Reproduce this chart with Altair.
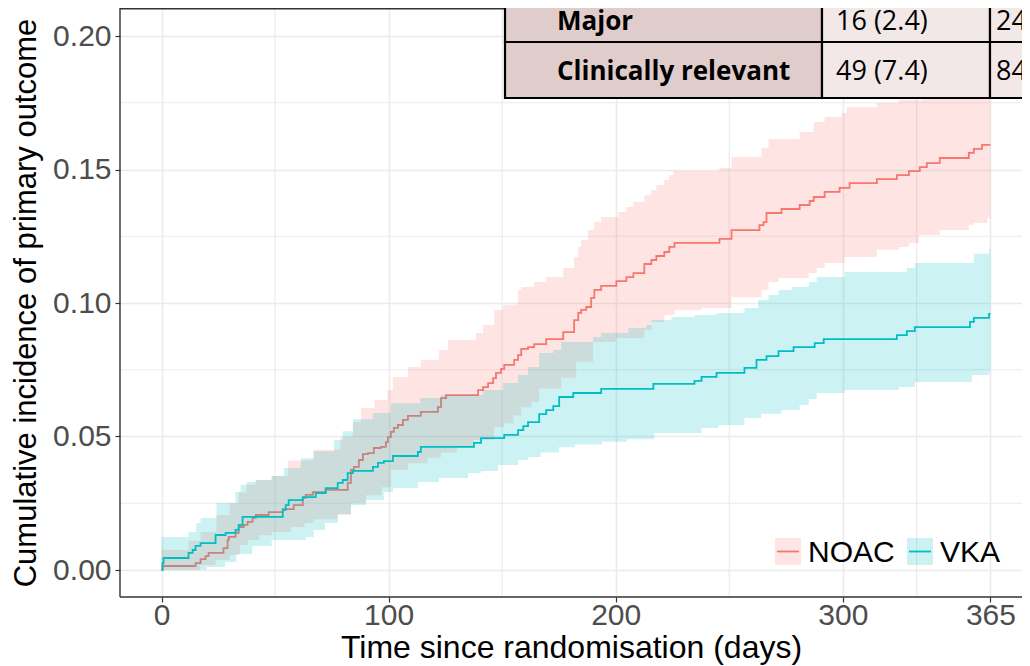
import altair as alt
import pandas as pd
import numpy as np

# ---------------- data ----------------
noac_days = [0, 0.5, 15.0, 17.2, 19.4, 20.7, 27.3, 29.1, 29.6, 32.6, 34.0, 36.2, 37.9, 40.1, 41.5, 47.2,
             53.4, 58.2, 62.2, 63.5, 66.6, 72.3, 82.0, 83.4, 84.7, 86.9, 88.7, 90.9, 93.5, 96.6, 98.8, 99.7,
             101.0, 102.3, 104.1, 106.3, 108.5, 114.2, 121.7, 123.1, 125.3, 139.4, 141.6, 143.8, 146.0, 147.3,
             149.5, 150.9, 155.3, 157.0, 158.4, 161.4, 164.1, 169.4, 176.9, 181.7, 183.5, 184.8, 187.0, 189.2,
             190.6, 193.6, 200.3, 204.7, 207.8, 212.6, 215.7, 217.9, 221.4, 223.6, 225.9, 245.7, 251.0, 263.3,
             265.1, 266.4, 273.0, 281.0, 285.4, 287.2, 292.0, 298.6, 303.0, 315.0, 323.8, 329.1, 333.9, 337.0,
             342.7, 355.5, 357.7, 361.3, 365]
noac_est = [0, 0.0015, 0.0026, 0.0041, 0.0052, 0.0064, 0.0082, 0.0112, 0.0124, 0.0139, 0.0161, 0.0169, 0.0180,
            0.0195, 0.0206, 0.0217, 0.0228, 0.0243, 0.0270, 0.0281, 0.0292, 0.0300, 0.0326, 0.0375, 0.0386,
            0.0412, 0.0434, 0.0438, 0.0457, 0.0461, 0.0479, 0.0498, 0.0517, 0.0532, 0.0543, 0.0562, 0.0577,
            0.0592, 0.0610, 0.0644, 0.0655, 0.0674, 0.0685, 0.0700, 0.0719, 0.0738, 0.0753, 0.0768, 0.0787,
            0.0805, 0.0828, 0.0835, 0.0846, 0.0865, 0.0891, 0.0936, 0.0963, 0.0974, 0.0985, 0.1019, 0.1049,
            0.1064, 0.1082, 0.1097, 0.1112, 0.1146, 0.1161, 0.1176, 0.1191, 0.1210, 0.1225, 0.1240, 0.1273,
            0.1292, 0.1303, 0.1337, 0.1352, 0.1367, 0.1382, 0.1397, 0.1416, 0.1431, 0.1449, 0.1464, 0.1479,
            0.1494, 0.1509, 0.1524, 0.1543, 0.1562, 0.1577, 0.1592, 0.1592]

noac_upper_days = [0, 11.9, 17.2, 24.2, 30.0, 34.0, 37.4, 41.5, 48.5, 55.6, 66.9, 78.8, 84.3, 87.8, 93.8, 99.5,
                   101.9, 108.5, 114.2, 122.2, 126.2, 138.5, 141.6, 146.5, 150.5, 157.0, 158.4, 164.1, 169.4,
                   176.9, 181.7, 183.5, 184.8, 187.9, 190.6, 193.6, 201.1, 204.7, 207.8, 212.6, 215.7, 217.9,
                   221.4, 223.6, 225.4, 245.7, 251.0, 264.2, 267.3, 281.0, 287.2, 292.0, 299.5, 301.7, 315.0,
                   324.7, 335.0, 345.0, 356.0, 365]
noac_upper = [0.0075, 0.011, 0.0142, 0.0206, 0.025, 0.029, 0.032, 0.0337, 0.0352, 0.041, 0.045, 0.0498, 0.0554,
              0.0607, 0.0637, 0.0674, 0.0723, 0.0760, 0.0787, 0.0824, 0.0861, 0.0888, 0.0918, 0.0974, 0.0993,
              0.1049, 0.1060, 0.1079, 0.1097, 0.1131, 0.1172, 0.1210, 0.1236, 0.1273, 0.1303, 0.1322, 0.1341,
              0.1360, 0.1378, 0.1404, 0.1423, 0.1442, 0.1461, 0.1479, 0.1494, 0.1506, 0.1547, 0.1581, 0.1614,
              0.1640, 0.1678, 0.1697, 0.1712, 0.1734, 0.1749, 0.1760, 0.180, 0.185, 0.190, 0.190]

noac_lower_days = [0, 17.0, 23.8, 30.0, 34.5, 38.0, 43.0, 48.5, 57.0, 63.0, 67.0, 77.6, 83.4, 90.0, 97.0, 101.0,
                   108.5, 117.0, 123.0, 130.0, 137.6, 146.5, 150.9, 155.0, 158.4, 162.8, 166.3, 176.0, 182.6,
                   190.0, 200.0, 212.6, 215.7, 221.4, 225.9, 237.8, 251.0, 264.2, 267.3, 271.7, 285.0, 288.5,
                   292.0, 300.8, 315.0, 324.7, 329.1, 333.5, 342.7, 355.5, 357.7, 363.5, 365]
noac_lower = [0, 0.0019, 0.0037, 0.0056, 0.0094, 0.0112, 0.0130, 0.0142, 0.0161, 0.0176, 0.0190, 0.0206, 0.0251,
              0.0280, 0.0310, 0.0375, 0.0400, 0.0420, 0.0440, 0.0460, 0.0487, 0.0536, 0.0550, 0.0580, 0.0610,
              0.0629, 0.0680, 0.0720, 0.0780, 0.0854, 0.0869, 0.0899, 0.0929, 0.0955, 0.0974, 0.0981, 0.1022,
              0.1049, 0.1079, 0.1094, 0.1112, 0.1131, 0.1150, 0.1172, 0.1199, 0.1210, 0.1225, 0.1255, 0.1273,
              0.1292, 0.1300, 0.1318, 0.1318]

vka_days = [0, 0.4, 0.9, 11.9, 13.7, 15.0, 17.2, 23.8, 28.2, 32.6, 34.0, 35.7, 53.4, 54.7, 56.0, 62.2, 67.9,
            72.3, 77.6, 79.8, 82.0, 84.3, 93.1, 95.3, 97.9, 101.9, 112.9, 114.2, 137.6, 140.7, 150.9, 157.0,
            159.3, 161.4, 166.3, 169.4, 172.5, 175.1, 181.3, 193.6, 216.6, 234.7, 237.8, 244.4, 256.7, 262.0,
            266.4, 271.7, 278.3, 287.6, 291.6, 323.8, 328.2, 331.7, 356.0, 357.7, 364.4, 365]
vka_est = [0, 0.0026, 0.0045, 0.0064, 0.0075, 0.0090, 0.0101, 0.0131, 0.0139, 0.0150, 0.0169, 0.0199, 0.0225,
           0.0243, 0.0262, 0.0273, 0.0288, 0.0307, 0.0326, 0.0337, 0.0363, 0.0371, 0.0386, 0.0401, 0.0408,
           0.0427, 0.0442, 0.0461, 0.0476, 0.0494, 0.0506, 0.0524, 0.0539, 0.0554, 0.0584, 0.0599, 0.0614,
           0.0648, 0.0663, 0.0678, 0.0697, 0.0708, 0.0723, 0.0738, 0.0757, 0.0787, 0.0801, 0.0820, 0.0835,
           0.0850, 0.0865, 0.0880, 0.0895, 0.0910, 0.0929, 0.0944, 0.0959, 0.0959]

vka_upper_days = [0, 11.9, 15.3, 17.2, 24.2, 32.6, 34.8, 37.4, 41.5, 48.5, 53.8, 61.3, 67.0, 76.0, 79.8, 84.3,
                  93.0, 101.0, 114.0, 123.1, 141.6, 150.5, 157.0, 161.4, 166.3, 172.5, 176.0, 190.0, 193.6,
                  205.6, 213.5, 215.7, 224.5, 234.7, 244.4, 256.7, 262.7, 267.3, 271.7, 277.5, 285.0, 288.5,
                  300.8, 328.2, 331.7, 357.7, 364.4, 365]
vka_upper = [0.0124, 0.0142, 0.0176, 0.0195, 0.0251, 0.0292, 0.0318, 0.0330, 0.0337, 0.0352, 0.0382, 0.0419,
             0.0445, 0.0487, 0.0520, 0.0565, 0.0588, 0.0625, 0.0644, 0.0655, 0.0674, 0.0700, 0.0730, 0.0760,
             0.0813, 0.0824, 0.0854, 0.0873, 0.0888, 0.0906, 0.0918, 0.0936, 0.0948, 0.0955, 0.0963, 0.0981,
             0.1011, 0.1030, 0.1049, 0.1060, 0.1079, 0.1097, 0.1116, 0.1131, 0.1150, 0.1184, 0.1202, 0.1202]

vka_lower_days = [0, 20, 28, 33, 40, 48.5, 63.5, 67, 72, 77.6, 83.4, 90, 97.9, 101.9, 112.9, 122.2, 135, 140.7,
                  148.2, 157, 161.4, 167, 175, 182, 194, 205, 217, 237.8, 245.3, 256.7, 264, 273, 281, 285,
                  288.5, 300.8, 324.7, 331.7, 356.9, 364.4, 365]
vka_lower = [0, 0.0011, 0.003, 0.006, 0.009, 0.0112, 0.0124, 0.015, 0.0176, 0.0210, 0.0243, 0.0262, 0.0292,
             0.0307, 0.0330, 0.0345, 0.0363, 0.0371, 0.0393, 0.0412, 0.0423, 0.044, 0.046, 0.047, 0.048, 0.049,
             0.0513, 0.0532, 0.0543, 0.0569, 0.0585, 0.0599, 0.0618, 0.0640, 0.0663, 0.0674, 0.0685, 0.0704,
             0.0730, 0.0742, 0.0742]

x_ticks = [0, 100, 200, 300, 365]
x_minor = [50, 150, 250, 332.5]
y_ticks = [0, 0.05, 0.10, 0.15, 0.20]
y_minor = [0.025, 0.075, 0.125, 0.175]

series_names = ["NOAC", "VKA"]
table_rows = ["Major", "Clinically relevant"]
table_col2 = ["16 (2.4)", "49 (7.4)"]
table_col3 = ["24", "84"]

# ---------------- helpers ----------------
def band_frame(ud, uv, ld, lv):
    grid = sorted(set(ud) | set(ld))
    ud_a, ld_a = np.array(ud), np.array(ld)
    up = [uv[np.searchsorted(ud_a, d, side="right") - 1] for d in grid]
    lo = [lv[np.searchsorted(ld_a, d, side="right") - 1] for d in grid]
    return pd.DataFrame({"day": grid, "upper": up, "lower": lo})

for a, b in [(noac_days, noac_est), (vka_days, vka_est), (noac_upper_days, noac_upper),
             (noac_lower_days, noac_lower), (vka_upper_days, vka_upper), (vka_lower_days, vka_lower)]:
    assert len(a) == len(b), (len(a), len(b))

noac_line = pd.DataFrame({"day": noac_days, "value": noac_est})
vka_line = pd.DataFrame({"day": vka_days, "value": vka_est})
noac_band = band_frame(noac_upper_days, noac_upper, noac_lower_days, noac_lower)
vka_band = band_frame(vka_upper_days, vka_upper, vka_lower_days, vka_lower)

# ---------------- layout ----------------
W, H = 902, 589
PX_PER_DAY = 2.271
X0 = 41.5                       # pixel of day 0 inside plot
x_dom = [-X0 / PX_PER_DAY, (W - X0) / PX_PER_DAY]
PX_PER_UNIT = 2670.0
Y0 = 562.0                      # pixel of 0.00 inside plot
y_dom = [(Y0 - H) / PX_PER_UNIT, Y0 / PX_PER_UNIT]

RED, TEAL = "#F8766D", "#00BFC4"
FONT = "Liberation Sans"
TFONT = "Open Sans"

xs = alt.Scale(domain=x_dom, nice=False, zero=False)
ys = alt.Scale(domain=y_dom, nice=False, zero=False)
x_axis = alt.Axis(values=x_ticks, title="Time since randomisation (days)",
                  labelBaseline="alphabetic", labelPadding=22, titleFontSize=32,
                  titleBaseline="alphabetic", titleY=60, grid=True)
y_axis = alt.Axis(values=y_ticks, format=".2f", title="Cumulative incidence of primary outcome",
                  labelPadding=4, titlePadding=10, titleFontSize=31, grid=True)

X = lambda f="day": alt.X(f"{f}:Q", scale=xs, axis=x_axis)
Y = lambda f="value": alt.Y(f"{f}:Q", scale=ys, axis=y_axis)

minor_x = alt.Chart(pd.DataFrame({"day": x_minor})).mark_rule(color="#ebebeb", strokeWidth=1.2).encode(x=X())
minor_y = alt.Chart(pd.DataFrame({"value": y_minor})).mark_rule(color="#ebebeb", strokeWidth=1.2).encode(y=Y())

def band(df, color):
    return alt.Chart(df).mark_area(interpolate="step-after", color=color, opacity=0.2).encode(
        x=X(), y=Y("upper"), y2="lower:Q")

def line(df, color):
    return alt.Chart(df).mark_line(interpolate="step-after", color=color, strokeWidth=1.8).encode(
        x=X(), y=Y())

dummy = pd.DataFrame({"a": [0]})

# panel border (left, top, bottom; the right side is cropped in the reference)
BORDER = "#333333"
borders = [
    alt.Chart(dummy).mark_rule(color=BORDER, strokeWidth=1.4).encode(
        x=alt.value(0), y=alt.value(0), y2=alt.value(H)),
    alt.Chart(dummy).mark_rule(color=BORDER, strokeWidth=1.4).encode(
        x=alt.value(0), x2=alt.value(W), y=alt.value(0.7)),
    alt.Chart(dummy).mark_rule(color=BORDER, strokeWidth=1.6).encode(
        x=alt.value(0), x2=alt.value(W), y=alt.value(H)),
]

# legend (drawn as marks, inside the panel bottom-right)
legend_layers = []
for i, (name, col) in enumerate(zip(series_names, [RED, TEAL])):
    kx = 655 + i * 132
    legend_layers.append(alt.Chart(dummy).mark_rect(color=col, opacity=0.2).encode(
        x=alt.value(kx), x2=alt.value(kx + 26), y=alt.value(530), y2=alt.value(557)))
    legend_layers.append(alt.Chart(dummy).mark_rule(color=col, strokeWidth=1.8).encode(
        x=alt.value(kx + 2), x2=alt.value(kx + 24), y=alt.value(543.5)))
    legend_layers.append(alt.Chart(dummy).mark_text(text=name, font=FONT, fontSize=30, align="left",
                                                    baseline="alphabetic", color="black").encode(
        x=alt.value(kx + 33), y=alt.value(554)))

# table overlay (top right, partly cropped)
col_edges = [385, 702, 870, 1000]
row_edges = [-20, 34, 90]
fills = ["#e0cccb", "#f3e8e8", "#f3e8e8"]
table_layers = []
for r in range(2):
    for c in range(3):
        table_layers.append(alt.Chart(dummy).mark_rect(fill=fills[c], stroke="black", strokeWidth=2.2).encode(
            x=alt.value(col_edges[c]), x2=alt.value(col_edges[c + 1]),
            y=alt.value(row_edges[r]), y2=alt.value(row_edges[r + 1])))
text_base = [22, 72]
for r in range(2):
    table_layers.append(alt.Chart(dummy).mark_text(text=table_rows[r], font=TFONT, fontWeight="bold",
                                                   fontSize=26, align="left", baseline="alphabetic",
                                                   color="black").encode(
        x=alt.value(437), y=alt.value(text_base[r])))
    table_layers.append(alt.Chart(dummy).mark_text(text=table_col2[r], font=TFONT, fontSize=27,
                                                   align="left", baseline="alphabetic", color="black").encode(
        x=alt.value(716), y=alt.value(text_base[r])))
    table_layers.append(alt.Chart(dummy).mark_text(text=table_col3[r], font=TFONT, fontSize=27,
                                                   align="left", baseline="alphabetic", color="black").encode(
        x=alt.value(876), y=alt.value(text_base[r])))

chart = alt.layer(
    minor_x, minor_y,
    band(noac_band, RED), line(noac_line, RED),
    band(vka_band, TEAL), line(vka_line, TEAL),
    *borders, *legend_layers, *table_layers
).properties(
    width=W, height=H,
    autosize=alt.AutoSizeParams(type="none"),
    padding={"left": 112, "top": 0, "right": 0, "bottom": 69},
    background="white",
).configure_view(
    strokeWidth=0
).configure_axis(
    domain=False, tickColor="#333333", tickSize=5, tickWidth=1.2,
    labelFont=FONT, labelFontSize=30, labelColor="#4d4d4d",
    titleFont=FONT, titleFontWeight="normal", titleColor="black",
    gridColor="#ebebeb", gridWidth=1.6,
)

chart.save("out.html", embed_options={"renderer": "svg", "actions": False})
